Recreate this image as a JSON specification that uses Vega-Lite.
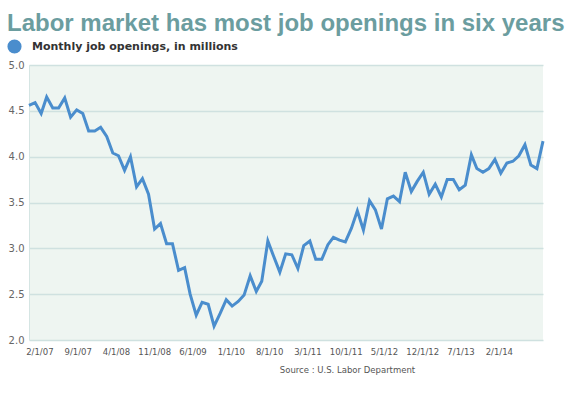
{
  "$schema": "https://vega.github.io/schema/vega-lite/v6.json",
  "autosize": "none",
  "width": 514,
  "height": 275,
  "padding": {"left": 29, "top": 65, "right": 26, "bottom": 58},
  "background": "#ffffff",
  "config": {"view": {"fill": "#eef5f1", "stroke": null}, "font": "DejaVu Sans"},
  "title": {
    "text": "Labor market has most job openings in six years",
    "anchor": "start",
    "frame": "bounds",
    "font": "Liberation Sans",
    "fontSize": 24,
    "fontWeight": "bold",
    "color": "#6b9d9f",
    "offset": 3
  },
  "datasets": {
    "jobs": [
      {"date": "2006-12-01", "openings": 4.56},
      {"date": "2007-01-01", "openings": 4.59},
      {"date": "2007-02-01", "openings": 4.47},
      {"date": "2007-03-01", "openings": 4.65},
      {"date": "2007-04-01", "openings": 4.53},
      {"date": "2007-05-01", "openings": 4.53},
      {"date": "2007-06-01", "openings": 4.64},
      {"date": "2007-07-01", "openings": 4.43},
      {"date": "2007-08-01", "openings": 4.51},
      {"date": "2007-09-01", "openings": 4.47},
      {"date": "2007-10-01", "openings": 4.28},
      {"date": "2007-11-01", "openings": 4.28},
      {"date": "2007-12-01", "openings": 4.32},
      {"date": "2008-01-01", "openings": 4.22},
      {"date": "2008-02-01", "openings": 4.04},
      {"date": "2008-03-01", "openings": 4.01},
      {"date": "2008-04-01", "openings": 3.85},
      {"date": "2008-05-01", "openings": 4.0},
      {"date": "2008-06-01", "openings": 3.67},
      {"date": "2008-07-01", "openings": 3.76},
      {"date": "2008-08-01", "openings": 3.59},
      {"date": "2008-09-01", "openings": 3.21},
      {"date": "2008-10-01", "openings": 3.27},
      {"date": "2008-11-01", "openings": 3.05},
      {"date": "2008-12-01", "openings": 3.05},
      {"date": "2009-01-01", "openings": 2.76},
      {"date": "2009-02-01", "openings": 2.79},
      {"date": "2009-03-01", "openings": 2.5},
      {"date": "2009-04-01", "openings": 2.27},
      {"date": "2009-05-01", "openings": 2.41},
      {"date": "2009-06-01", "openings": 2.39},
      {"date": "2009-07-01", "openings": 2.15},
      {"date": "2009-08-01", "openings": 2.29},
      {"date": "2009-09-01", "openings": 2.44},
      {"date": "2009-10-01", "openings": 2.37},
      {"date": "2009-11-01", "openings": 2.42},
      {"date": "2009-12-01", "openings": 2.49},
      {"date": "2010-01-01", "openings": 2.7},
      {"date": "2010-02-01", "openings": 2.53},
      {"date": "2010-03-01", "openings": 2.64},
      {"date": "2010-04-01", "openings": 3.08},
      {"date": "2010-05-01", "openings": 2.91},
      {"date": "2010-06-01", "openings": 2.74},
      {"date": "2010-07-01", "openings": 2.94},
      {"date": "2010-08-01", "openings": 2.93},
      {"date": "2010-09-01", "openings": 2.78},
      {"date": "2010-10-01", "openings": 3.03},
      {"date": "2010-11-01", "openings": 3.08},
      {"date": "2010-12-01", "openings": 2.88},
      {"date": "2011-01-01", "openings": 2.88},
      {"date": "2011-02-01", "openings": 3.04},
      {"date": "2011-03-01", "openings": 3.12},
      {"date": "2011-04-01", "openings": 3.09},
      {"date": "2011-05-01", "openings": 3.07},
      {"date": "2011-06-01", "openings": 3.22},
      {"date": "2011-07-01", "openings": 3.41},
      {"date": "2011-08-01", "openings": 3.2},
      {"date": "2011-09-01", "openings": 3.52},
      {"date": "2011-10-01", "openings": 3.42},
      {"date": "2011-11-01", "openings": 3.21},
      {"date": "2011-12-01", "openings": 3.54},
      {"date": "2012-01-01", "openings": 3.57},
      {"date": "2012-02-01", "openings": 3.51},
      {"date": "2012-03-01", "openings": 3.83},
      {"date": "2012-04-01", "openings": 3.62},
      {"date": "2012-05-01", "openings": 3.73},
      {"date": "2012-06-01", "openings": 3.83},
      {"date": "2012-07-01", "openings": 3.59},
      {"date": "2012-08-01", "openings": 3.7},
      {"date": "2012-09-01", "openings": 3.56},
      {"date": "2012-10-01", "openings": 3.75},
      {"date": "2012-11-01", "openings": 3.75},
      {"date": "2012-12-01", "openings": 3.64},
      {"date": "2013-01-01", "openings": 3.69},
      {"date": "2013-02-01", "openings": 4.02},
      {"date": "2013-03-01", "openings": 3.87},
      {"date": "2013-04-01", "openings": 3.83},
      {"date": "2013-05-01", "openings": 3.87},
      {"date": "2013-06-01", "openings": 3.97},
      {"date": "2013-07-01", "openings": 3.82},
      {"date": "2013-08-01", "openings": 3.93},
      {"date": "2013-09-01", "openings": 3.95},
      {"date": "2013-10-01", "openings": 4.01},
      {"date": "2013-11-01", "openings": 4.13},
      {"date": "2013-12-01", "openings": 3.91},
      {"date": "2014-01-01", "openings": 3.87},
      {"date": "2014-02-01", "openings": 4.17}
    ],
    "ticks": [
      {"label": "2/1/07"},
      {"label": "9/1/07"},
      {"label": "4/1/08"},
      {"label": "11/1/08"},
      {"label": "6/1/09"},
      {"label": "1/1/10"},
      {"label": "8/1/10"},
      {"label": "3/1/11"},
      {"label": "10/1/11"},
      {"label": "5/1/12"},
      {"label": "12/1/12"},
      {"label": "7/1/13"},
      {"label": "2/1/14"}
    ]
  },
  "layer": [
    {
      "data": {"name": "jobs"},
      "mark": {"type": "line", "strokeWidth": 3},
      "encoding": {
        "x": {"field": "date", "type": "temporal", "scale": {"nice": false, "padding": 0}, "axis": null},
        "y": {
          "field": "openings",
          "type": "quantitative",
          "scale": {"domain": [2, 5], "nice": false, "zero": false},
          "axis": {
            "values": [2, 2.5, 3, 3.5, 4, 4.5, 5],
            "format": ".1f",
            "title": null,
            "grid": true,
            "gridColor": "#cfe1e0",
            "gridWidth": 1.5,
            "domain": true,
            "domainColor": "#d5e5e3",
            "ticks": false,
            "labelFont": "DejaVu Sans",
            "labelFontSize": 10,
            "labelColor": "#666666",
            "labelPadding": 5
          }
        },
        "color": {
          "datum": "Monthly job openings, in millions",
          "scale": {"range": ["#4a8dcd"]},
          "legend": {
            "orient": "none",
            "legendX": -22,
            "legendY": -26,
            "title": null,
            "padding": 0,
            "symbolType": "circle",
            "symbolSize": 200,
            "symbolFillColor": "#4a8dcd",
            "symbolStrokeColor": "#4a8dcd",
            "symbolStrokeWidth": 0,
            "symbolOpacity": 1,
            "labelFont": "DejaVu Sans",
            "labelFontSize": 11,
            "labelFontWeight": "bold",
            "labelColor": "#333333",
            "labelOffset": 10,
            "labelLimit": 400
          }
        }
      }
    },
    {
      "data": {"name": "ticks"},
      "mark": {"type": "point", "opacity": 0},
      "encoding": {
        "x": {
          "field": "label",
          "type": "ordinal",
          "sort": null,
          "scale": {"type": "point", "padding": 0.712, "align": 0.19},
          "axis": {
            "orient": "bottom",
            "domain": false,
            "ticks": false,
            "grid": false,
            "labelAngle": 0,
            "labelFont": "DejaVu Sans",
            "labelFontSize": 8.5,
            "labelColor": "#555555",
            "labelPadding": 7,
            "title": "Source : U.S. Labor Department",
            "titleFont": "DejaVu Sans",
            "titleFontSize": 8.5,
            "titleFontWeight": "normal",
            "titleColor": "#555555",
            "titleX": 318,
            "titleY": 32,
            "titleAlign": "center",
            "titleBaseline": "alphabetic"
          }
        }
      }
    }
  ],
  "resolve": {"scale": {"x": "independent"}, "axis": {"x": "independent"}}
}
